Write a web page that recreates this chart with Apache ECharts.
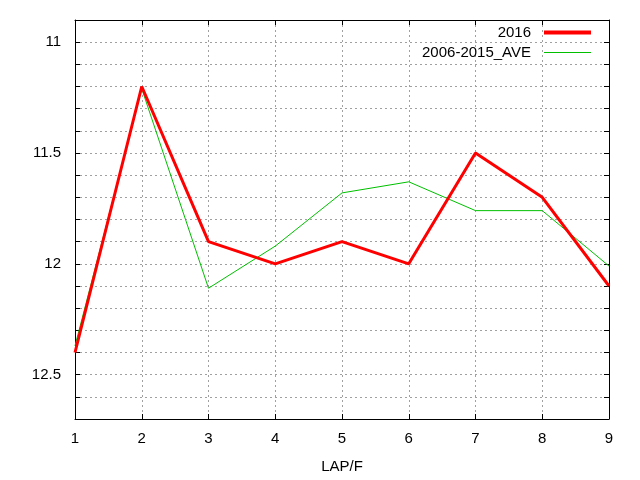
<!DOCTYPE html>
<html>
<head>
<meta charset="utf-8">
<script src="https://cdn.jsdelivr.net/npm/echarts@6/dist/echarts.min.js"></script>
<style>
  html, body { margin: 0; padding: 0; background: #fff; }
  #chart { width: 640px; height: 480px; }
</style>
</head>
<body>
<div id="chart"></div>
<script>
// lap numbers on the x axis
const laps = [1, 2, 3, 4, 5, 6, 7, 8, 9];
// lap times
const times2016 = [12.4, 11.2, 11.9, 12.0, 11.9, 12.0, 11.5, 11.7, 12.1];
const timesAve = [12.37, 11.21, 12.11, 11.92, 11.68, 11.63, 11.76, 11.76, 12.01];
const seriesNames = ['2016', '2006-2015_AVE'];

const FONT = 'Liberation Sans, Arial, sans-serif';
const gridDash = { color: '#a0a0a0', type: [2, 3], width: 1 };
const frameLine = { show: true, onZero: false, lineStyle: { color: '#000', width: 1 } };
const innerTick = { show: true, inside: true, length: 5, lineStyle: { color: '#000' } };

const chart = echarts.init(document.getElementById('chart'), null, { renderer: 'canvas' });

const yLabel = v => {
  const half = v * 2;
  if (Math.abs(half - Math.round(half)) > 1e-6) return '';
  return String(Math.round(v * 10) / 10);
};

// gnuplot-like key: text right-aligned, line sample on the right
const keyEntry = (name, top, thick) => ({
  data: [{ name: name, icon: 'rect' }],
  right: 44, top: top,
  align: 'right',
  itemWidth: 47, itemHeight: thick,
  textStyle: { fontFamily: FONT, fontSize: 15, color: '#000', padding: [0, 8, 0, 0] }
});

chart.setOption({
  animation: false,
  backgroundColor: '#fff',
  grid: { left: 75, right: 31, top: 20, bottom: 61 },
  legend: [
    keyEntry(seriesNames[0], 20, 4),
    keyEntry(seriesNames[1], 40, 1)
  ],
  xAxis: [
    {
      type: 'value', min: 1, max: 9, interval: 1,
      name: 'LAP/F', nameLocation: 'middle', nameGap: 40,
      nameTextStyle: { fontFamily: FONT, fontSize: 15, color: '#000' },
      axisLine: frameLine, axisTick: innerTick,
      axisLabel: { fontFamily: FONT, fontSize: 15, color: '#000', margin: 12 },
      splitLine: { show: true, lineStyle: gridDash }
    },
    {
      type: 'value', min: 1, max: 9, interval: 1, position: 'top',
      axisLine: frameLine, axisTick: innerTick,
      axisLabel: { show: false }, splitLine: { show: false }
    }
  ],
  yAxis: [
    {
      type: 'value', inverse: true, min: 10.9, max: 12.7, interval: 0.1,
      axisLine: frameLine, axisTick: innerTick,
      axisLabel: { fontFamily: FONT, fontSize: 15, color: '#000', margin: 14, formatter: yLabel },
      splitLine: { show: true, lineStyle: gridDash }
    },
    {
      type: 'value', inverse: true, min: 10.9, max: 12.7, interval: 0.1, position: 'right',
      axisLine: frameLine, axisTick: innerTick,
      axisLabel: { show: false }, splitLine: { show: false }
    }
  ],
  series: [
    {
      name: seriesNames[0], type: 'line', symbol: 'none', z: 3,
      data: laps.map((x, i) => [x, times2016[i]]),
      lineStyle: { color: '#ff0000', width: 3 },
      itemStyle: { color: '#ff0000' }
    },
    {
      name: seriesNames[1], type: 'line', symbol: 'none', z: 2,
      data: laps.map((x, i) => [x, timesAve[i]]),
      lineStyle: { color: '#00c000', width: 1 },
      itemStyle: { color: '#00c000' }
    }
  ]
});
</script>
</body>
</html>
